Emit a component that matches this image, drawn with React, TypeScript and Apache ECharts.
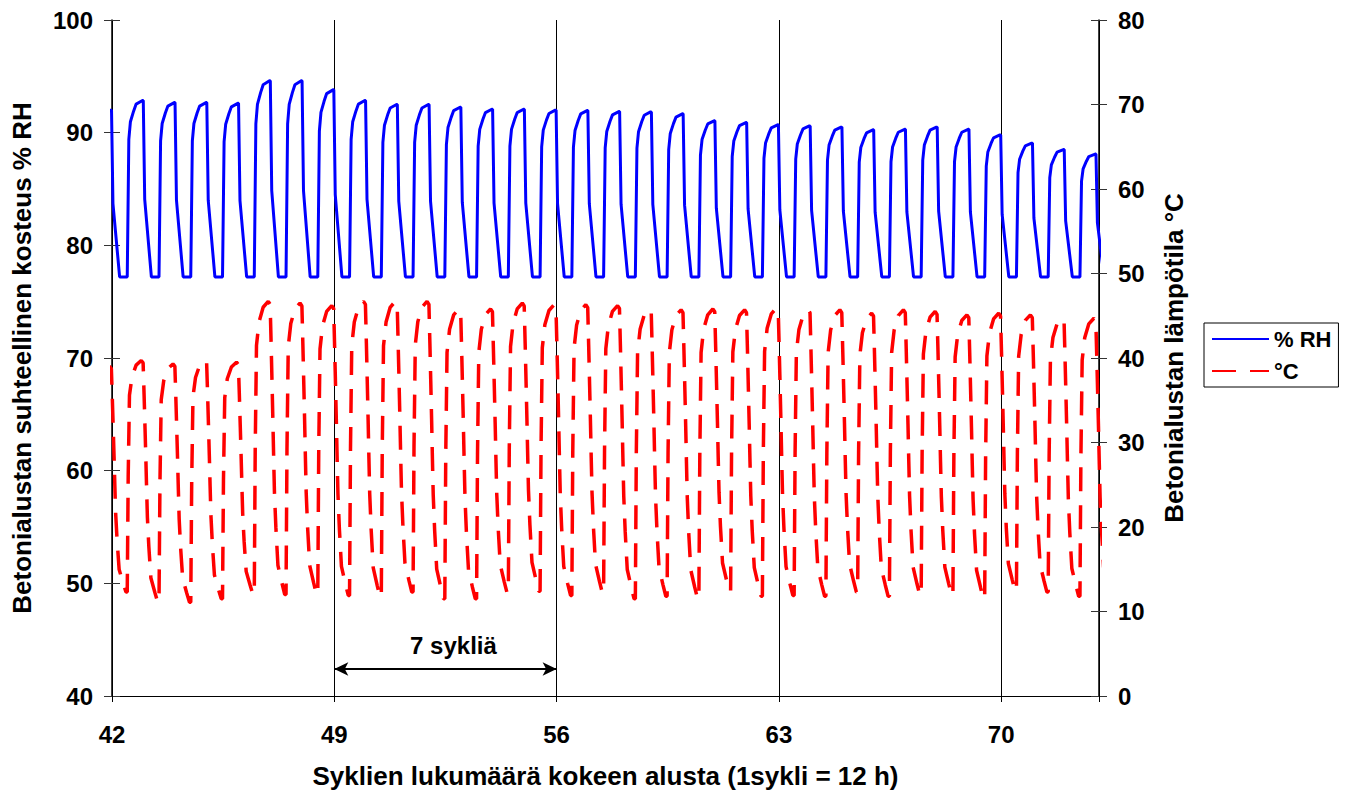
import React, { useEffect, useRef } from 'react';
import * as echarts from 'echarts';

// ---------- data ----------
const X_MIN = 42;
const X_MAX = 73.08;
const xTickLabels = [42, 49, 56, 63, 70];

// cycle index (integer part of the cycle in which the RH/temperature rise happens)
const cycles = [41, 42, 43, 44, 45, 46, 47, 48, 49, 50, 51, 52, 53, 54, 55, 56, 57, 58, 59, 60, 61, 62, 63, 64, 65, 66, 67, 68, 69, 70, 71, 72];

// peak relative humidity of each cycle (% RH)
const rhPeak = [92.0, 92.85, 92.67, 92.67, 92.6, 94.6, 94.6, 93.8, 92.85, 92.5, 92.5, 92.26, 92.08, 92.08, 92.0, 91.96, 91.87, 91.84, 91.67, 91.05, 90.9, 90.7, 90.6, 90.49, 90.25, 90.3, 90.49, 90.3, 89.8, 89.07, 88.5, 88.1];
// flat floor of the RH curve
const RH_FLOOR = 77.2;

// peak temperature of each cycle (°C)
const tempPeak = [39.0, 39.7, 39.3, 39.7, 39.5, 46.7, 46.5, 46.2, 46.7, 46.7, 46.7, 45.8, 45.8, 46.5, 46.3, 46.3, 46.2, 45.8, 45.7, 45.8, 45.7, 45.9, 45.7, 45.7, 45.3, 45.7, 45.5, 45.1, 45.3, 45.1, 44.7, 44.7];
// temperature trough just before each cycle's rise (one more than cycles)
const tempTrough = [11.8, 12.3, 11.1, 11.1, 11.5, 12.0, 12.0, 12.0, 11.9, 11.7, 12.3, 11.5, 11.5, 12.2, 12.4, 11.9, 12.2, 11.5, 11.8, 11.5, 12.4, 11.8, 11.9, 11.8, 12.3, 11.8, 11.9, 11.9, 11.5, 12.4, 12.3, 11.8, 12.0];

// phase (fraction of a cycle) at which each rise starts
const RISE_PHASE = 0.48;

// shape of one RH cycle: [phase after rise, fraction floor->peak]
const rhShape: [number, number][] = [
  [0, 0], [0.05, 0.78], [0.1, 0.88], [0.2, 0.94], [0.28, 0.98], [0.48, 1.0], [0.505, 1.0], [0.55, 0.44], [0.76, 0],
];
// shape of one temperature cycle: [phase after rise, fraction trough->peak]
const tempShape: [number, number][] = [
  [0, 0], [0.03, 0.5], [0.07, 0.85], [0.15, 0.93], [0.28, 0.98], [0.44, 1.0], [0.5, 0.99], [0.53, 0.86], [0.56, 0.72], [0.585, 0.6], [0.61, 0.47], [0.635, 0.35], [0.68, 0.23], [0.745, 0.1], [0.87, 0.04], [0.96, 0],
];

// annotation
const arrowFrom = 49;
const arrowTo = 56;
const arrowLevel = 42.4;
const arrowLabel = '7 sykliä';

const FONT = 'Liberation Sans, Arial, Helvetica, sans-serif';

function buildRH(): [number, number][] {
  const out: [number, number][] = [];
  cycles.forEach((c, i) => {
    const start = c + RISE_PHASE;
    rhShape.forEach(([p, f]) => {
      out.push([start + p, RH_FLOOR + f * (rhPeak[i] - RH_FLOOR)]);
    });
  });
  return out;
}

function buildTemp(): [number, number][] {
  const out: [number, number][] = [];
  cycles.forEach((c, i) => {
    const start = c + RISE_PHASE;
    tempShape.forEach(([p, f]) => {
      const base = p < 0.47 ? tempTrough[i] : tempTrough[i + 1];
      out.push([start + p, base + f * (tempPeak[i] - base)]);
    });
  });
  return out;
}

export default function App() {
  const ref = useRef<HTMLDivElement>(null);
  useEffect(() => {
    if (!ref.current) return;
    const chart = echarts.init(ref.current, null, { renderer: 'svg' });
    const tickFont = { fontFamily: FONT, fontWeight: 'bold' as const, fontSize: 24, color: '#000' };
    const titleFont = { fontFamily: FONT, fontWeight: 'bold' as const, fontSize: 26, color: '#000' };
    chart.setOption({
      animation: false,
      backgroundColor: '#fff',
      grid: { left: 112, right: 247, top: 20, bottom: 97, containLabel: false },
      legend: {
        orient: 'vertical',
        left: 1204,
        top: 323,
        itemWidth: 57,
        itemHeight: 14,
        itemGap: 10,
        padding: [5, 7, 5, 7],
        borderColor: '#000',
        borderWidth: 1,
        borderRadius: 0,
        itemStyle: { opacity: 0 },
        textStyle: { fontFamily: FONT, fontWeight: 'bold', fontSize: 22, color: '#000' },
        data: ['% RH', '°C'],
      },
      xAxis: {
        type: 'value',
        min: X_MIN,
        max: X_MAX,
        interval: 7,
        name: 'Syklien lukumäärä kokeen alusta (1sykli = 12 h)',
        nameLocation: 'middle',
        nameGap: 67,
        nameTextStyle: { ...titleFont },
        axisLine: { show: true, lineStyle: { color: '#000', width: 1 } },
        axisTick: { show: true, length: 6, lineStyle: { color: '#000' } },
        axisLabel: {
          ...tickFont,
          margin: 26,
          formatter: (v: number) => (xTickLabels.includes(v) ? String(v) : ''),
        },
        splitLine: { show: true, lineStyle: { color: '#000', width: 1 } },
      },
      yAxis: [
        {
          type: 'value',
          position: 'left',
          min: 40,
          max: 100,
          interval: 10,
          name: 'Betonialustan suhteellinen kosteus % RH',
          nameLocation: 'middle',
          nameGap: 77,
          nameTextStyle: { ...titleFont },
          axisLine: { show: true, lineStyle: { color: '#000', width: 1.5 } },
          axisTick: { show: true, length: 8, lineStyle: { color: '#333' } },
          axisLabel: { ...tickFont, margin: 19 },
          splitLine: { show: false },
        },
        {
          type: 'value',
          position: 'right',
          min: 0,
          max: 80,
          interval: 10,
          name: 'Betonialustan lämpötila °C',
          nameLocation: 'middle',
          nameGap: 62,
          nameTextStyle: { ...titleFont },
          axisLine: { show: true, lineStyle: { color: '#000', width: 1.5 } },
          axisTick: { show: true, length: 8, lineStyle: { color: '#333' } },
          axisLabel: { ...tickFont, margin: 19 },
          splitLine: { show: false },
        },
        {
          type: 'value',
          position: 'left',
          min: 40,
          max: 100,
          interval: 10,
          axisLine: { show: false },
          axisTick: { show: true, inside: true, length: 8, lineStyle: { color: '#333' } },
          axisLabel: { show: false },
          splitLine: { show: false },
        },
        {
          type: 'value',
          position: 'right',
          min: 0,
          max: 80,
          interval: 10,
          axisLine: { show: false },
          axisTick: { show: true, inside: true, length: 8, lineStyle: { color: '#333' } },
          axisLabel: { show: false },
          splitLine: { show: false },
        },
      ],
      series: [
        {
          name: '% RH',
          type: 'line',
          yAxisIndex: 0,
          symbol: 'none',
          showSymbol: false,
          itemStyle: { color: '#0000FF' },
          lineStyle: { color: '#0000FF', width: 3 },
          emphasis: { disabled: true },
          data: buildRH(),
          markLine: {
            silent: true,
            symbol: ['arrow', 'arrow'],
            symbolSize: [10, 14],
            lineStyle: { color: '#000', width: 2, type: 'solid' },
            label: {
              show: true,
              position: 'middle',
              formatter: arrowLabel,
              distance: 11,
              offset: [8, 0],
              ...tickFont,
            },
            emphasis: { disabled: true },
            data: [[{ coord: [arrowFrom, arrowLevel] }, { coord: [arrowTo, arrowLevel] }]],
          },
        },
        {
          name: '°C',
          type: 'line',
          yAxisIndex: 1,
          symbol: 'none',
          showSymbol: false,
          itemStyle: { color: '#FF0000' },
          lineStyle: { color: '#FF0000', width: 3.5, type: [24, 14] },
          emphasis: { disabled: true },
          data: buildTemp(),
        },
      ],
    });
    return () => chart.dispose();
  }, []);
  return (
    <div
      ref={ref}
      style={{ position: 'absolute', left: 0, top: 0, width: 1346, height: 794 }}
    />
  );
}
